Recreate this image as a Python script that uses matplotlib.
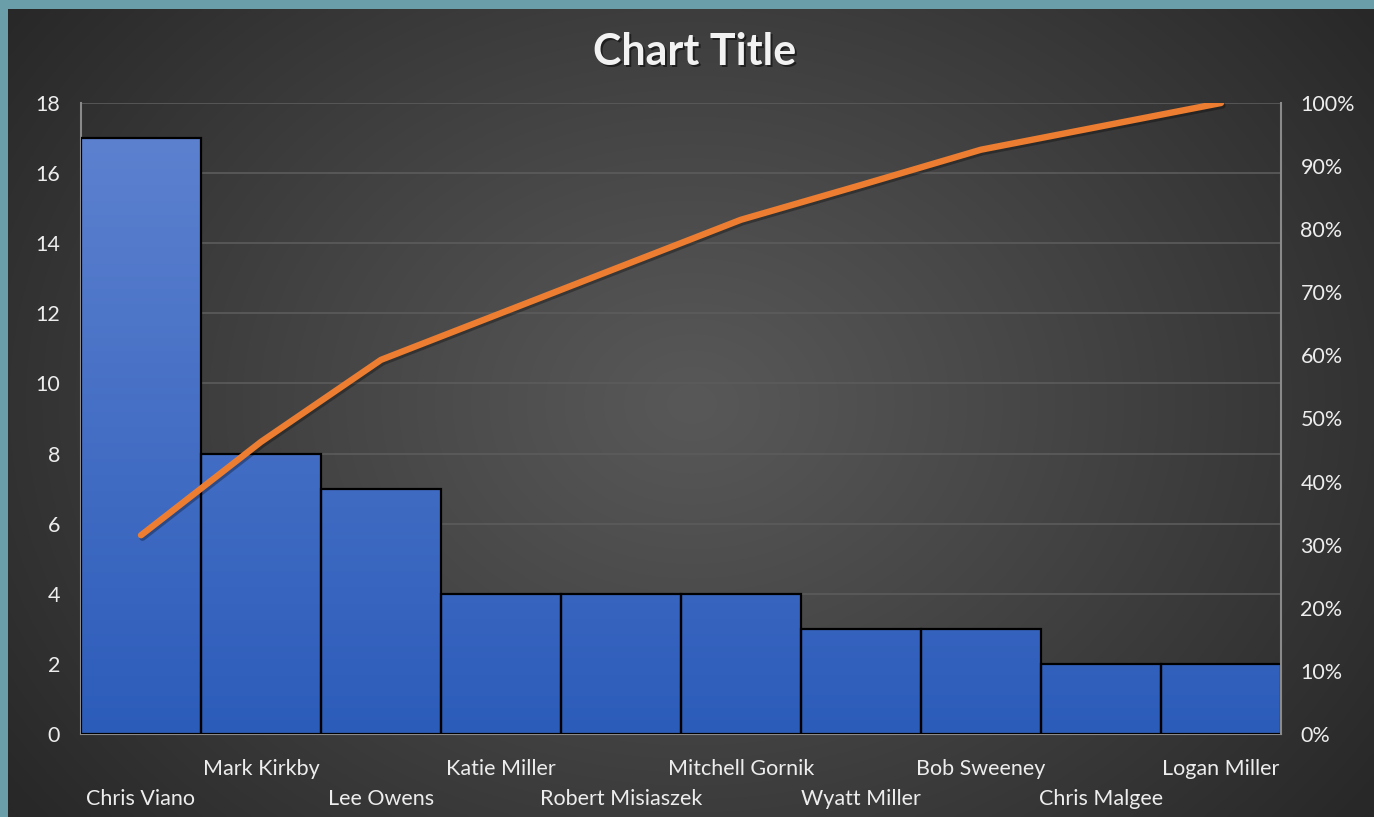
import numpy as np
import matplotlib
matplotlib.use("Agg")
import matplotlib.pyplot as plt
import matplotlib.transforms as mtransforms

categories = ["Chris Viano", "Mark Kirkby", "Lee Owens", "Katie Miller",
              "Robert Misiaszek", "Mitchell Gornik", "Wyatt Miller",
              "Bob Sweeney", "Chris Malgee", "Logan Miller"]
values = [17, 8, 7, 4, 4, 4, 3, 3, 2, 2]
cum_pct = [31.5, 46.3, 59.3, 66.7, 74.1, 81.5, 87.0, 92.6, 96.3, 100.0]
left_ticks = [0, 2, 4, 6, 8, 10, 12, 14, 16, 18]
right_ticks = [0, 10, 20, 30, 40, 50, 60, 70, 80, 90, 100]

W, H = 1374, 817
fig = plt.figure(figsize=(W / 100, H / 100), dpi=100)
fig.patch.set_facecolor("#6a9ea8")

FONT = ["Lato", "DejaVu Sans"]
TXT = "#ededed"
FS = 15.5

# dark chart area with radial gradient
bg = fig.add_axes([8 / W, 0, (W - 8) / W, (H - 9) / H])
bg.set_axis_off()
yy, xx = np.mgrid[0:400, 0:680]
cx, cy = 340, 195
r = np.sqrt(((xx - cx) / 420) ** 2 + ((yy - cy) / 330) ** 2)
r = np.clip(r, 0, 1)
c0, c1 = 0x58 / 255, 0x28 / 255
g = c0 + (c1 - c0) * r ** 1.1
img = np.dstack([g, g, g])
bg.imshow(img, extent=[0, 1, 0, 1], aspect="auto", interpolation="bicubic")
bg.set_xlim(0, 1)
bg.set_ylim(0, 1)

ax = fig.add_axes([81 / W, (H - 734) / H, 1200 / W, 631 / H])
ax.patch.set_alpha(0)
n = len(values)
x = np.arange(n)

# gradient fill bars
grad = np.linspace(0, 1, 256).reshape(-1, 1)
top = np.array([0x5f, 0x83, 0xd0]) / 255
bot = np.array([0x2c, 0x5c, 0xba]) / 255
gimg = top[None, None, :] * (1 - grad[:, :, None]) + bot[None, None, :] * grad[:, :, None]
bars = ax.bar(x, values, width=1.0, color="none", edgecolor="black", linewidth=1.6, zorder=3)
for b in bars:
    im = ax.imshow(gimg, extent=[-0.5, n - 0.5, 0, 18], aspect="auto", zorder=2,
                   interpolation="bilinear")
    im.set_clip_path(b)
ax.set_xlim(-0.5, n - 0.5)
ax.set_ylim(0, 18)

ax.set_yticks(left_ticks)
ax.set_yticklabels([str(t) for t in left_ticks])
ax.grid(axis="y", color="#5c5c5c", linewidth=1.2, zorder=0)
ax.set_axisbelow(True)
ax.tick_params(axis="y", length=0, pad=15, labelsize=FS, labelcolor=TXT)
ax.tick_params(axis="x", length=0, labelbottom=False)
for lab in ax.get_yticklabels():
    lab.set_fontfamily(FONT)
for s in ["top", "right"]:
    ax.spines[s].set_visible(False)
ax.spines["left"].set_color("#8a8a8a")
ax.spines["left"].set_linewidth(1.5)
ax.spines["bottom"].set_color("#8a8a8a")
ax.spines["bottom"].set_linewidth(1.5)

# staggered category labels
trans = mtransforms.blended_transform_factory(ax.transData, ax.transAxes)
for i, name in enumerate(categories):
    off = -35 if i % 2 == 1 else -65
    ax.annotate(name, xy=(i, 0), xycoords=trans, xytext=(0, off),
                textcoords="offset pixels", ha="center", va="center",
                fontsize=FS, color=TXT, family=FONT)

# secondary axis
ax2 = ax.twinx()
ax2.set_ylim(0, 100)
ax2.set_yticks(right_ticks)
ax2.set_yticklabels([f"{t}%" for t in right_ticks])
ax2.tick_params(axis="y", length=0, pad=14, labelsize=FS, labelcolor=TXT)
for lab in ax2.get_yticklabels():
    lab.set_fontfamily(FONT)
for s in ["top", "left", "bottom"]:
    ax2.spines[s].set_visible(False)
ax2.spines["right"].set_color("#8a8a8a")
ax2.spines["right"].set_linewidth(1.5)

# shadow + line
ax2.plot(x, cum_pct, color="black", alpha=0.3, linewidth=4.6,
         solid_capstyle="round", solid_joinstyle="round",
         transform=ax2.transData + mtransforms.ScaledTranslation(1.5 / 100, -2.5 / 100, fig.dpi_scale_trans),
         zorder=4)
ax2.plot(x, cum_pct, color="#ED7D31", linewidth=4.6, solid_capstyle="round",
         solid_joinstyle="round", zorder=5)

# title with shadow
fig.text(695 / W + 2 / W, 1 - 52 / H - 2 / H, "Chart Title", ha="center", va="center",
         fontsize=31, fontweight="bold", color="black", alpha=0.5, family=FONT)
fig.text(695 / W, 1 - 52 / H, "Chart Title", ha="center", va="center",
         fontsize=31, fontweight="bold", color="#f2f2f2", family=FONT)

fig.savefig("out.png", dpi=100, facecolor=fig.get_facecolor())
